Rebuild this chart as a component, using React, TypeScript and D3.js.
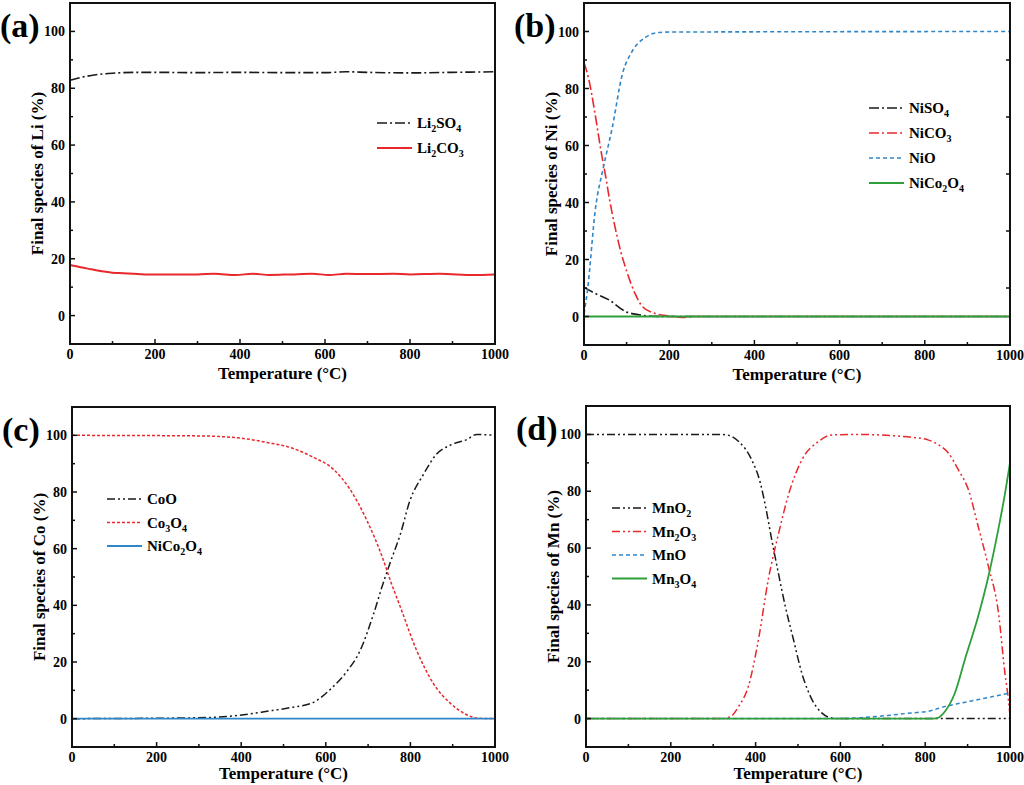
import React, { useEffect, useRef } from "react";
import * as d3 from "d3";

type Pt = [number, number];

// panel (a) - Li
const li2so4: Pt[] = [[0, 82.8], [25, 83.8], [50, 84.5], [75, 85], [100, 85.3], [150, 85.6], [200, 85.6], [300, 85.5], [400, 85.6], [500, 85.5], [600, 85.5], [650, 85.8], [700, 85.6], [800, 85.4], [900, 85.6], [1000, 85.8]];
const li2co3: Pt[] = [[0, 17.8], [25, 17], [50, 16.3], [75, 15.6], [100, 15.1], [125, 14.9], [150, 14.7], [175, 14.5], [200, 14.5], [300, 14.5], [340, 14.7], [390, 14.3], [430, 14.7], [470, 14.3], [520, 14.5], [570, 14.7], [610, 14.3], [650, 14.7], [700, 14.6], [760, 14.7], [800, 14.5], [870, 14.7], [950, 14.3], [1000, 14.5]];

// panel (b) - Ni
const niso4: Pt[] = [[0, 10.2], [25, 8.2], [59, 5.8], [98, 1.7], [129, 0.6], [160, 0.1], [200, 0], [1000, 0]];
const nico3: Pt[] = [[0, 89], [10, 84], [25, 72], [40, 58], [51, 49], [60, 41], [72, 32], [86, 23], [100, 16], [120, 8], [137, 3.5], [168, 1], [200, 0.2], [230, -0.3], [260, 0], [1000, 0]];
const nio: Pt[] = [[0, 1], [8, 9], [27, 38], [45, 52], [66, 66], [90, 85], [113, 93], [145, 98], [172, 99.6], [200, 99.8], [1000, 100]];
const nico2o4Ni: Pt[] = [[0, 0], [1000, 0]];

// panel (c) - Co
const coo: Pt[] = [[0, 0], [240, 0.2], [320, 0.4], [382, 1], [461, 2.6], [520, 4], [567, 5.5], [618, 11.4], [650, 16.7], [681, 24], [713, 37], [736, 48], [752, 55], [776, 65], [799, 77], [830, 86], [862, 93.4], [894, 96.5], [933, 98.5], [957, 100.3], [1000, 100]];
const co3o4: Pt[] = [[0, 100], [300, 99.8], [399, 99], [461, 97.5], [520, 95.5], [567, 92.5], [618, 88], [657, 81], [697, 70], [736, 56], [752, 49], [776, 39.5], [815, 24], [854, 12.5], [894, 5.5], [933, 1.4], [957, 0.2], [1000, 0]];
const nico2o4Co: Pt[] = [[0, 0], [1000, 0]];

// panel (d) - Mn
const mno2: Pt[] = [[0, 100], [300, 100], [328, 99.9], [360, 97.5], [391, 91], [411, 83], [423, 75], [438, 63], [454, 51], [470, 39.5], [489, 28], [509, 16], [533, 6.7], [556, 2], [580, 0.2], [600, 0], [1000, 0]];
const mn2o3: Pt[] = [[0, 0], [320, 0], [340, 0.6], [360, 4.3], [383, 11.4], [407, 28], [430, 49], [454, 65], [478, 79], [509, 91], [548, 97.5], [580, 99.8], [635, 100], [729, 99.5], [768, 99], [808, 98], [831, 96.4], [855, 93.4], [878, 87.6], [902, 80.5], [925, 67.6], [949, 53.6], [973, 37], [988, 16], [996, 7], [1000, 1]];
const mno: Pt[] = [[0, 0], [600, 0], [690, 0.8], [768, 2], [808, 2.6], [847, 4.3], [886, 5.5], [925, 6.7], [1000, 9]];
const mn3o4: Pt[] = [[0, 0], [820, 0], [830, 0.3], [847, 2.6], [870, 9], [894, 21], [925, 36], [949, 50], [973, 67], [988, 79], [1000, 90]];

const xTicks = [0, 200, 400, 600, 800, 1000];
const yTicks = [0, 20, 40, 60, 80, 100];

const BLACK = "#1a1a1a";
const RED = "#e8282c";
const BLUE = "#2f86c8";
const GREEN = "#2e9e3a";

const DASHDOT = "10,3,2,3";
const DASHDOTDOT = "8,3,2,3,2,3";
const DOT = "3,2";
const SHORTDASH = "4,3";

interface Series {
  name: [string, string][]; // text pieces, second = "sub" or ""
  data: Pt[];
  color: string;
  dash: string | null;
  width: number;
}

interface Panel {
  tag: string;
  element: string;
  box: [number, number, number, number]; // left, right, top, bottom
  legend: [number, number, number]; // x, y, row step
  titleGap: number;
  series: Series[];
  rightTicks?: boolean;
}

const panels: Panel[] = [
  {
    tag: "(a)",
    element: "Li",
    box: [70, 495, 3, 344],
    legend: [377, 123, 25],
    titleGap: 35,
    series: [
      { name: [["Li", ""], ["2", "sub"], ["SO", ""], ["4", "sub"]], data: li2so4, color: BLACK, dash: DASHDOT, width: 1.6 },
      { name: [["Li", ""], ["2", "sub"], ["CO", ""], ["3", "sub"]], data: li2co3, color: RED, dash: null, width: 2 },
    ],
  },
  {
    tag: "(b)",
    element: "Ni",
    box: [584, 1010, 3, 345],
    legend: [869, 108, 25],
    titleGap: 35,
    rightTicks: true,
    series: [
      { name: [["NiSO", ""], ["4", "sub"]], data: niso4, color: BLACK, dash: DASHDOT, width: 1.6 },
      { name: [["NiCO", ""], ["3", "sub"]], data: nico3, color: RED, dash: DASHDOT, width: 1.6 },
      { name: [["NiO", ""]], data: nio, color: BLUE, dash: SHORTDASH, width: 1.6 },
      { name: [["NiCo", ""], ["2", "sub"], ["O", ""], ["4", "sub"]], data: nico2o4Ni, color: GREEN, dash: null, width: 2 },
    ],
  },
  {
    tag: "(c)",
    element: "Co",
    box: [72, 495, 407, 747],
    legend: [107, 499, 23.5],
    titleGap: 32,
    series: [
      { name: [["CoO", ""]], data: coo, color: BLACK, dash: DASHDOTDOT, width: 1.5 },
      { name: [["Co", ""], ["3", "sub"], ["O", ""], ["4", "sub"]], data: co3o4, color: RED, dash: DOT, width: 1.5 },
      { name: [["NiCo", ""], ["2", "sub"], ["O", ""], ["4", "sub"]], data: nico2o4Co, color: BLUE, dash: null, width: 1.8 },
    ],
  },
  {
    tag: "(d)",
    element: "Mn",
    box: [586, 1010, 406, 747],
    legend: [612, 508, 23.5],
    titleGap: 32,
    series: [
      { name: [["MnO", ""], ["2", "sub"]], data: mno2, color: BLACK, dash: DASHDOTDOT, width: 1.5 },
      { name: [["Mn", ""], ["2", "sub"], ["O", ""], ["3", "sub"]], data: mn2o3, color: RED, dash: DASHDOTDOT, width: 1.5 },
      { name: [["MnO", ""]], data: mno, color: BLUE, dash: SHORTDASH, width: 1.5 },
      { name: [["Mn", ""], ["3", "sub"], ["O", ""], ["4", "sub"]], data: mn3o4, color: GREEN, dash: null, width: 1.8 },
    ],
  },
];

const FONT = "'Liberation Serif', 'Times New Roman', serif";

const App = () => {
  const svgRef = useRef<SVGSVGElement | null>(null);

  useEffect(() => {
    const svg = d3.select(svgRef.current);
    svg.selectAll("*").remove();
    svg.attr("width", 1024).attr("height", 785).style("background", "#fff");

    panels.forEach((p) => {
      const [l, r, t, b] = p.box;
      const x = d3.scaleLinear().domain([0, 1000]).range([l, r]);
      const y = d3.scaleLinear().domain([-10, 110]).range([b, t]);
      const g = svg.append("g");

      // curves (clipped to plot box)
      const clipId = "clip-" + p.element;
      g.append("clipPath").attr("id", clipId).append("rect")
        .attr("x", l).attr("y", t).attr("width", r - l).attr("height", b - t);

      const line = d3.line<Pt>().x((d) => x(d[0])).y((d) => y(d[1])).curve(d3.curveMonotoneX);
      p.series.forEach((s) => {
        g.append("path")
          .attr("clip-path", `url(#${clipId})`)
          .attr("d", line(s.data))
          .attr("fill", "none")
          .attr("stroke", s.color)
          .attr("stroke-width", s.width)
          .attr("stroke-dasharray", s.dash ?? null);
      });

      // frame
      g.append("rect")
        .attr("x", l).attr("y", t).attr("width", r - l).attr("height", b - t)
        .attr("fill", "none").attr("stroke", "#111").attr("stroke-width", 2);

      // x ticks (inward) + minor
      d3.range(0, 1001, 100).forEach((v) => {
        const major = v % 200 === 0;
        g.append("line")
          .attr("x1", x(v)).attr("x2", x(v))
          .attr("y1", b).attr("y2", b - (major ? 5 : 3))
          .attr("stroke", "#111").attr("stroke-width", 1.5);
      });
      xTicks.forEach((v) => {
        g.append("text")
          .attr("x", x(v)).attr("y", b + 15)
          .attr("text-anchor", "middle")
          .attr("font-family", FONT).attr("font-weight", "bold").attr("font-size", 14)
          .text(v);
      });

      // y ticks
      d3.range(0, 101, 10).forEach((v) => {
        const major = v % 20 === 0;
        g.append("line")
          .attr("x1", l).attr("x2", l + (major ? 5 : 3))
          .attr("y1", y(v)).attr("y2", y(v))
          .attr("stroke", "#111").attr("stroke-width", 1.5);
        if (p.rightTicks && !major) {
          g.append("line")
            .attr("x1", r).attr("x2", r - 4)
            .attr("y1", y(v)).attr("y2", y(v))
            .attr("stroke", "#111").attr("stroke-width", 1.5);
        }
      });
      yTicks.forEach((v) => {
        g.append("text")
          .attr("x", l - 5).attr("y", y(v) + 5)
          .attr("text-anchor", "end")
          .attr("font-family", FONT).attr("font-weight", "bold").attr("font-size", 14)
          .text(v);
      });

      // axis titles
      g.append("text")
        .attr("x", (l + r) / 2).attr("y", b + p.titleGap)
        .attr("text-anchor", "middle")
        .attr("font-family", FONT).attr("font-weight", "bold").attr("font-size", 17)
        .text("Temperature (\u00B0C)");
      g.append("text")
        .attr("transform", `translate(${l - 27},${(t + b) / 2}) rotate(-90)`)
        .attr("text-anchor", "middle")
        .attr("font-family", FONT).attr("font-weight", "bold").attr("font-size", 17)
        .text(`Final species of ${p.element} (%)`);

      // panel tag
      g.append("text")
        .attr("x", l - 70).attr("y", t + 34)
        .attr("font-family", FONT).attr("font-weight", "bold").attr("font-size", 34)
        .text(p.tag);

      // legend
      const [lx, ly, step] = p.legend;
      p.series.forEach((s, i) => {
        const yy = ly + i * step;
        g.append("line")
          .attr("x1", lx).attr("x2", lx + 35)
          .attr("y1", yy).attr("y2", yy)
          .attr("stroke", s.color)
          .attr("stroke-width", s.width)
          .attr("stroke-dasharray", s.dash ?? null);
        const txt = g.append("text")
          .attr("x", lx + 40).attr("y", yy + 5)
          .attr("font-family", FONT).attr("font-weight", "bold").attr("font-size", 15);
        s.name.forEach(([str, kind]) => {
          const ts = txt.append("tspan").text(str);
          if (kind === "sub") ts.attr("font-size", 10).attr("dy", 4);
          else ts.attr("dy", txt.selectAll("tspan").size() > 1 ? -4 : 0);
        });
      });
    });
  }, []);

  return (
    <div style={{ position: "absolute", left: 0, top: 0, width: 1024, height: 785 }}>
      <svg ref={svgRef}></svg>
    </div>
  );
};

export default App;
